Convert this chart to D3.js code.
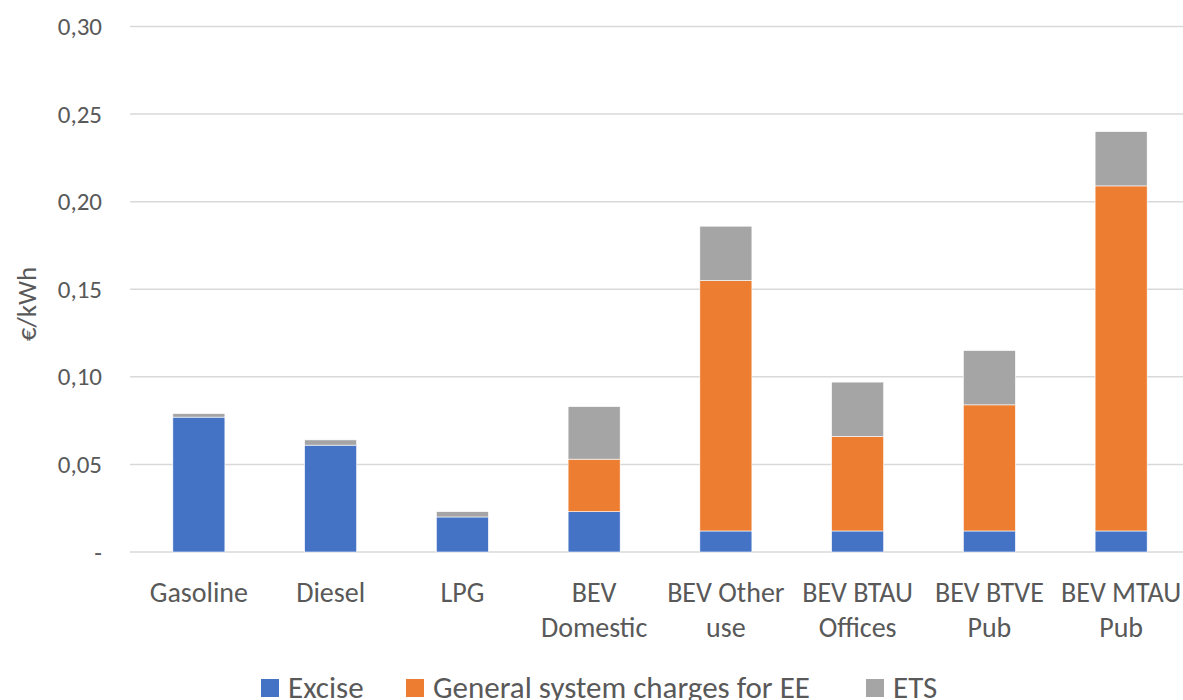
<!DOCTYPE html>
<html>
<head>
<meta charset="utf-8">
<script src="https://cdn.jsdelivr.net/npm/d3@7"></script>
<style>
  html, body { margin: 0; padding: 0; background: #fff; }
  svg { display: block; }
  text { font-family: Carlito, Calibri, Lato, sans-serif; fill: #595959; }
</style>
</head>
<body>
<div id="chart"></div>
<script>
// Tax components per fuel / charging profile, in €/kWh
const categories = ["Gasoline", "Diesel", "LPG", "BEV Domestic", "BEV Other use",
                    "BEV BTAU Offices", "BEV BTVE Pub", "BEV MTAU Pub"];
const categoryLines = [["Gasoline"], ["Diesel"], ["LPG"], ["BEV", "Domestic"], ["BEV Other", "use"],
                       ["BEV BTAU", "Offices"], ["BEV BTVE", "Pub"], ["BEV MTAU", "Pub"]];
const seriesNames = ["Excise", "General system charges for EE", "ETS"];
const excise = [0.077, 0.061, 0.020, 0.023, 0.012, 0.012, 0.012, 0.012];
const systemCharges = [0, 0, 0, 0.030, 0.143, 0.054, 0.072, 0.197];
const ets = [0.002, 0.003, 0.003, 0.030, 0.031, 0.031, 0.031, 0.031];
const yTicks = [0, 0.05, 0.10, 0.15, 0.20, 0.25, 0.30];
const colors = ["#4472C4", "#ED7D31", "#A5A5A5"];

const W = 1183, H = 700;
const svg = d3.select("#chart").append("svg").attr("width", W).attr("height", H);

const rows = categories.map((c, i) => ({
  category: c,
  "Excise": excise[i],
  "General system charges for EE": systemCharges[i],
  "ETS": ets[i]
}));
const stacked = d3.stack().keys(seriesNames)(rows);

const x = d3.scaleBand().domain(categories).range([133, 1187])
  .paddingInner(0.605).paddingOuter(0.3025);
const y = d3.scaleLinear().domain([0, 0.30]).range([552, 26.5]);

// Horizontal gridlines
svg.append("g").selectAll("line").data(yTicks).join("line")
  .attr("x1", 130).attr("x2", W)
  .attr("y1", d => y(d)).attr("y2", d => y(d))
  .attr("stroke", "#D9D9D9").attr("stroke-width", 1.5);

// Y axis labels
const fmt = d => d === 0 ? "-" : d3.format(".2f")(d).replace(".", ",");
const yAxis = svg.append("g").attr("transform", "translate(112,0)")
  .call(d3.axisLeft(y).tickValues(yTicks).tickFormat(fmt).tickSize(0).tickPadding(10));
yAxis.select(".domain").remove();
yAxis.selectAll("text").style("font-size", "25px").attr("fill", "#595959");

// Y axis title
svg.append("text")
  .attr("transform", "translate(30,304) rotate(-90)")
  .attr("text-anchor", "middle").attr("dominant-baseline", "middle")
  .style("font-size", "27px").text("€/kWh");

// Stacked bars
svg.append("g").selectAll("g").data(stacked).join("g")
  .attr("fill", (d, i) => colors[i])
  .selectAll("rect").data(d => d).join("rect")
  .attr("x", d => x(d.data.category))
  .attr("width", x.bandwidth())
  .attr("y", d => y(d[1]))
  .attr("height", d => Math.max(0, y(d[0]) - y(d[1])))
  .attr("stroke", "#fff").attr("stroke-width", 0.6);

// Category labels
const xl = svg.append("g").selectAll("text").data(categories).join("text")
  .attr("text-anchor", "middle")
  .attr("x", d => x(d) + x.bandwidth() / 2)
  .attr("y", 602)
  .style("font-size", "28px");
xl.each(function(d, i) {
  d3.select(this).selectAll("tspan").data(categoryLines[i]).join("tspan")
    .attr("x", x(d) + x.bandwidth() / 2)
    .attr("dy", (t, j) => j === 0 ? 0 : 35)
    .text(t => t);
});

// Legend
const legendX = [261, 406, 866];
const lg = svg.append("g").selectAll("g").data(seriesNames).join("g")
  .attr("transform", (d, i) => `translate(${legendX[i]},0)`);
lg.append("rect").attr("x", 0).attr("y", 679).attr("width", 18).attr("height", 18)
  .attr("fill", (d, i) => colors[i]);
lg.append("text").attr("x", 27).attr("y", 698)
  .style("font-size", "31px").text(d => d);
</script>
</body>
</html>
